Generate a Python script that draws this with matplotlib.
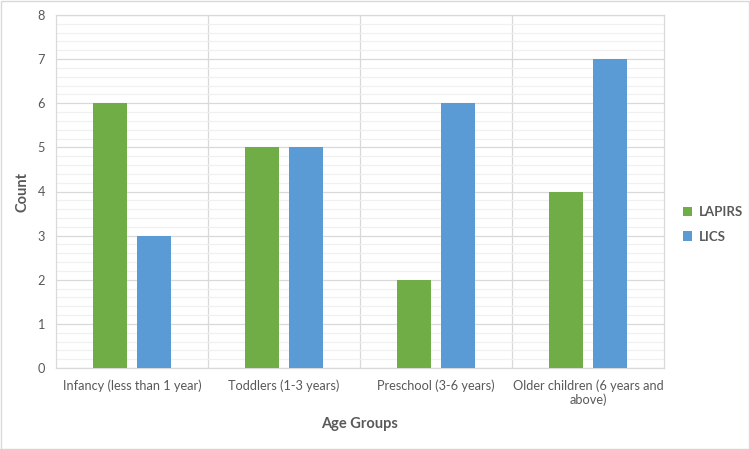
import matplotlib.pyplot as plt
import numpy as np
from matplotlib.patches import Rectangle

plt.rcParams['font.family'] = ['Lato', 'DejaVu Sans']

categories = ['Infancy (less than 1 year)', 'Toddlers (1-3 years)',
              'Preschool (3-6 years)', 'Older children (6 years and\nabove)']
lapirs = [6, 5, 2, 4]
lics = [3, 5, 6, 7]

GREEN = '#70AD47'
BLUE = '#5B9BD5'
TEXT = '#595959'

fig = plt.figure(figsize=(7.5, 4.49), dpi=100)
ax = fig.add_axes([56 / 750, 1 - 368 / 449, 608 / 750, 353 / 449])

x = np.arange(len(categories))
w = 0.224
ax.bar(x - 0.145, lapirs, w, color=GREEN, label='LAPIRS', zorder=3)
ax.bar(x + 0.145, lics, w, color=BLUE, label='LICS', zorder=3)

ax.set_xlim(-0.5, len(categories) - 0.5)
ax.set_ylim(0, 8)
ax.set_yticks(np.arange(0, 9, 1))
ax.set_yticks(np.arange(0, 8.01, 0.2), minor=True)
ax.grid(axis='y', which='major', color='#D9D9D9', linewidth=0.9, zorder=0)
ax.grid(axis='y', which='minor', color='#F0F0F0', linewidth=0.9, zorder=0)
for b in np.arange(0.5, len(categories) - 0.5, 1):
    ax.axvline(b, color='#D9D9D9', linewidth=0.9, zorder=1)

ax.set_xticks(x)
ax.set_xticklabels(categories, fontsize=9.2, color=TEXT)
ax.tick_params(axis='x', length=0, pad=8)
ax.tick_params(axis='y', which='both', length=0, labelsize=9.2, labelcolor=TEXT, pad=8)
for side in ['top', 'right', 'left', 'bottom']:
    ax.spines[side].set_color('#D9D9D9')
    ax.spines[side].set_linewidth(0.9)

ax.set_ylabel('Count', fontsize=10.5, fontweight='bold', color=TEXT, labelpad=6)
ax.set_xlabel('Age Groups', fontsize=10.5, fontweight='bold', color=TEXT, labelpad=8)

leg = ax.legend(loc='center left', bbox_to_anchor=(1.02, 0.407), frameon=False,
                prop={'size': 9.5, 'weight': 'bold'}, handlelength=0.7,
                handleheight=0.7, labelspacing=0.95, handletextpad=0.5,
                borderpad=0)
for t in leg.get_texts():
    t.set_color(TEXT)

fig.patches.append(Rectangle((0.5 / 750, 0.5 / 449), 748.5 / 750, 447.5 / 449,
                             transform=fig.transFigure, fill=False,
                             edgecolor='#D9D9D9', linewidth=1))

fig.savefig('out.png', dpi=100)
